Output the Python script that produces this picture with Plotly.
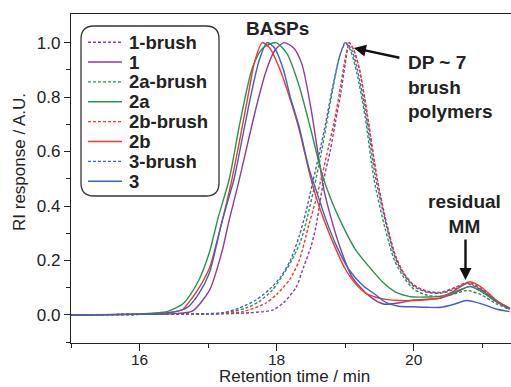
import plotly.graph_objects as go

# ---------------- data ----------------
names = ["1-brush", "1", "2a-brush", "2a", "2b-brush", "2b", "3-brush", "3"]
colors = ["#8E3C98", "#8E3C98", "#2B9150", "#2B9150", "#EC3A2E", "#EC3A2E", "#4163B5", "#4163B5"]
dashes = ["3px,2px", "solid", "3px,2px", "solid", "3px,2px", "solid", "3px,2px", "solid"]

x_1_brush = [15.0, 16.0, 17.0, 17.6, 17.94, 18.1, 18.28, 18.4, 18.5, 18.57, 18.69, 18.78, 18.86, 18.94, 19.0, 19.06,
             19.13, 19.21, 19.32, 19.46, 19.6, 19.73, 19.85, 20.0, 20.2, 20.4, 20.6, 20.8, 21.0, 21.2, 21.4]
y_1_brush = [0.0, 0.002, 0.003, 0.008, 0.018, 0.045, 0.10, 0.18, 0.25, 0.32, 0.50, 0.60, 0.71, 0.82, 0.92, 1.0,
             0.97, 0.90, 0.74, 0.51, 0.34, 0.22, 0.155, 0.11, 0.087, 0.083, 0.10, 0.118, 0.09, 0.052, 0.024]

x_1 = [15.0, 16.0, 16.5, 16.77, 17.02, 17.2, 17.31, 17.43, 17.55, 17.7, 17.84, 17.97, 18.11, 18.25, 18.37, 18.5,
       18.6, 18.69, 18.79, 18.91, 19.1, 19.35, 19.56, 19.8, 20.0, 20.2, 20.4, 20.6, 20.82, 21.0, 21.2, 21.4]
y_1 = [0.0, 0.002, 0.005, 0.014, 0.09, 0.23, 0.35, 0.47, 0.60, 0.76, 0.89, 0.97, 1.0, 0.98, 0.92, 0.76,
       0.60, 0.46, 0.36, 0.26, 0.14, 0.07, 0.04, 0.045, 0.055, 0.058, 0.062, 0.08, 0.105, 0.085, 0.05, 0.025]

x_2a_brush = [15.0, 16.0, 16.8, 17.2, 17.55, 17.75, 17.94, 18.1, 18.22, 18.35, 18.45, 18.55, 18.64, 18.72, 18.82, 18.92,
              19.0, 19.08, 19.17, 19.29, 19.42, 19.58, 19.72, 19.85, 20.0, 20.2, 20.4, 20.6, 20.78, 21.0, 21.2, 21.4]
y_2a_brush = [0.0, 0.002, 0.003, 0.006, 0.025, 0.05, 0.092, 0.15, 0.20, 0.27, 0.36, 0.47, 0.58, 0.69, 0.83, 0.95,
              1.0, 0.97, 0.89, 0.73, 0.50, 0.32, 0.20, 0.14, 0.095, 0.072, 0.068, 0.078, 0.09, 0.072, 0.042, 0.02]

x_2a = [15.0, 16.0, 16.4, 16.63, 16.73, 16.87, 17.02, 17.15, 17.31, 17.46, 17.65, 17.8, 17.99, 18.15, 18.33, 18.5,
        18.66, 18.8, 18.96, 19.15, 19.39, 19.55, 19.73, 19.9, 20.0, 20.2, 20.4, 20.6, 20.82, 21.0, 21.2, 21.4]
y_2a = [0.0, 0.004, 0.012, 0.04, 0.07, 0.13, 0.23, 0.36, 0.50, 0.70, 0.91, 0.98, 1.0, 0.96, 0.84, 0.68,
        0.52, 0.42, 0.33, 0.24, 0.165, 0.12, 0.085, 0.07, 0.066, 0.066, 0.069, 0.085, 0.104, 0.085, 0.05, 0.025]

x_2b_brush = [15.0, 16.0, 17.0, 17.5, 17.84, 18.0, 18.19, 18.33, 18.47, 18.57, 18.67, 18.76, 18.84, 18.92, 19.0, 19.06,
              19.13, 19.21, 19.32, 19.46, 19.6, 19.73, 19.85, 20.0, 20.2, 20.4, 20.6, 20.8, 21.0, 21.2, 21.4]
y_2b_brush = [0.0, 0.002, 0.004, 0.012, 0.043, 0.075, 0.13, 0.20, 0.33, 0.42, 0.52, 0.62, 0.71, 0.82, 0.94, 1.0,
              0.97, 0.90, 0.74, 0.51, 0.34, 0.22, 0.155, 0.11, 0.085, 0.082, 0.10, 0.12, 0.095, 0.055, 0.025]

x_2b = [15.0, 16.0, 16.4, 16.63, 16.73, 16.87, 17.02, 17.15, 17.25, 17.35, 17.46, 17.58, 17.68, 17.79, 17.9, 18.05,
        18.2, 18.33, 18.47, 18.58, 18.69, 18.85, 19.01, 19.15, 19.3, 19.45, 19.6, 19.8, 20.0, 20.2, 20.4, 20.6,
        20.82, 21.0, 21.2, 21.4]
y_2b = [0.0, 0.003, 0.008, 0.02, 0.05, 0.1, 0.172, 0.29, 0.39, 0.50, 0.64, 0.80, 0.93, 1.0, 0.98, 0.90,
        0.79, 0.68, 0.53, 0.43, 0.35, 0.25, 0.165, 0.115, 0.08, 0.065, 0.057, 0.053, 0.053, 0.056, 0.063, 0.09,
        0.122, 0.10, 0.055, 0.02]

x_3_brush = [15.0, 16.0, 16.8, 17.21, 17.45, 17.7, 17.9, 18.06, 18.2, 18.33, 18.43, 18.52, 18.62, 18.72, 18.82, 18.92,
             19.01, 19.1, 19.18, 19.3, 19.44, 19.6, 19.73, 19.85, 20.0, 20.2, 20.4, 20.6, 20.78, 21.0, 21.2, 21.4]
y_3_brush = [0.0, 0.002, 0.004, 0.008, 0.025, 0.055, 0.095, 0.14, 0.20, 0.29, 0.38, 0.48, 0.59, 0.71, 0.84, 0.95,
             1.0, 0.97, 0.90, 0.74, 0.51, 0.33, 0.21, 0.15, 0.105, 0.083, 0.08, 0.095, 0.115, 0.09, 0.05, 0.022]

x_3 = [15.0, 16.0, 16.4, 16.7, 16.87, 17.02, 17.19, 17.29, 17.38, 17.5, 17.62, 17.74, 17.86, 17.97, 18.1, 18.2,
       18.33, 18.47, 18.6, 18.72, 18.88, 19.06, 19.25, 19.44, 19.6, 19.78, 20.0, 20.2, 20.4, 20.6, 20.77, 21.0,
       21.2, 21.4]
y_3 = [0.0, 0.003, 0.006, 0.028, 0.08, 0.155, 0.33, 0.42, 0.50, 0.65, 0.80, 0.93, 1.0, 0.98, 0.90, 0.80,
       0.69, 0.54, 0.44, 0.35, 0.25, 0.165, 0.11, 0.075, 0.045, 0.032, 0.03, 0.028, 0.028, 0.04, 0.053, 0.04,
       0.022, 0.012]

xs = [x_1_brush, x_1, x_2a_brush, x_2a, x_2b_brush, x_2b, x_3_brush, x_3]
ys = [y_1_brush, y_1, y_2a_brush, y_2a, y_2b_brush, y_2b, y_3_brush, y_3]

x_major_ticks = [16, 18, 20]
x_minor_ticks = [15, 17, 19, 21]
y_major_ticks = [0.0, 0.2, 0.4, 0.6, 0.8, 1.0]
y_minor_ticks = [-0.1, 0.1, 0.3, 0.5, 0.7, 0.9]

x_title = "Retention time / min"
y_title = "RI response / A.U."

# ---------------- figure ----------------
W, H = 511, 387
ML, MR, MT, MB = 71, 0, 14, 44
PW, PH = W - ML - MR, H - MT - MB
FONT = "Liberation Sans, Arial, sans-serif"
INK = "#222222"


def px(xp):
    return (xp - ML) / PW


def py(yp):
    return (H - MB - yp) / PH


fig = go.Figure()
for n, c, d, x, y in zip(names, colors, dashes, xs, ys):
    fig.add_trace(go.Scatter(x=x, y=y, name=n, mode="lines",
                             line=dict(color=c, width=1.4, dash=d, shape="spline", smoothing=0.7),
                             showlegend=False))

shapes = []
annotations = []

# legend box with rounded corners
x0, x1, y0, y1 = px(81), px(219), py(196), py(26)
rx, ry = 13 / PW, 13 / PH
path = (f"M {x0+rx},{y1} L {x1-rx},{y1} Q {x1},{y1} {x1},{y1-ry} "
        f"L {x1},{y0+ry} Q {x1},{y0} {x1-rx},{y0} L {x0+rx},{y0} Q {x0},{y0} {x0},{y0+ry} "
        f"L {x0},{y1-ry} Q {x0},{y1} {x0+rx},{y1} Z")
shapes.append(dict(type="path", xref="paper", yref="paper", path=path,
                   line=dict(color="#333333", width=1.3), fillcolor="rgba(255,255,255,1)", layer="above"))

for i, (n, c, d) in enumerate(zip(names, colors, dashes)):
    yc = 42.2 + 19.86 * i
    shapes.append(dict(type="line", xref="paper", yref="paper", x0=px(88), x1=px(122), y0=py(yc), y1=py(yc),
                       line=dict(color=c, width=1.4, dash=d), layer="above"))
    annotations.append(dict(xref="paper", yref="paper", x=px(127), y=py(yc), xanchor="left", yanchor="middle",
                            text=f"<b>{n}</b>", showarrow=False, font=dict(family=FONT, size=18.5, color=INK)))

# axis titles (placed as in the reference)
annotations.append(dict(xref="paper", yref="paper", x=px(294), y=py(387), xanchor="center", yanchor="bottom",
                        text=x_title, showarrow=False, borderpad=0,
                        font=dict(family=FONT, size=17, color=INK)))
annotations.append(dict(xref="paper", yref="paper", x=px(20), y=py(162), xanchor="center", yanchor="middle",
                        text=y_title, textangle=-90, showarrow=False, font=dict(family=FONT, size=17, color=INK)))

# text labels
annotations.append(dict(xref="paper", yref="paper", x=px(277.5), y=py(28.5), xanchor="center", yanchor="middle",
                        text="<b>BASPs</b>", showarrow=False, font=dict(family=FONT, size=19, color=INK)))
annotations.append(dict(xref="paper", yref="paper", x=px(406), y=py(50), xanchor="left", yanchor="top",
                        align="left", text="<b>DP ~ 7<br>brush<br>polymers</b>", showarrow=False,
                        font=dict(family=FONT, size=19, color=INK)))
annotations.append(dict(xref="paper", yref="paper", x=px(464.5), y=py(189), xanchor="center", yanchor="top",
                        align="center", text="<b>residual<br>MM</b>", showarrow=False,
                        font=dict(family=FONT, size=19, color=INK)))
# arrows
annotations.append(dict(x=19.128, y=0.98, xref="x", yref="y", text="", showarrow=True, ax=47, ay=10,
                        arrowhead=2, arrowsize=1.0, arrowwidth=2.4, arrowcolor="#111111", standoff=0))
annotations.append(dict(x=20.756, y=0.128, xref="x", yref="y", text="", showarrow=True, ax=0, ay=-42,
                        arrowhead=2, arrowsize=1.0, arrowwidth=2.4, arrowcolor="#111111", standoff=0))

fig.update_layout(
    width=W, height=H,
    margin=dict(l=ML, r=MR, t=MT, b=MB, autoexpand=False),
    paper_bgcolor="white", plot_bgcolor="white",
    font=dict(family=FONT, color=INK),
    shapes=shapes, annotations=annotations,
    showlegend=False,
)
fig.update_xaxes(
    range=[15, 21.42], tickmode="array", tickvals=x_major_ticks, ticks="outside", ticklen=7, tickwidth=1.2,
    tickcolor=INK, showline=True, linecolor=INK, linewidth=1.3, mirror=True, showgrid=False, zeroline=False,
    tickfont=dict(size=15.5, family=FONT, color=INK), ticklabelstandoff=-5,
    minor=dict(tickmode="array", tickvals=x_minor_ticks, ticks="outside", ticklen=4, tickwidth=1.2, tickcolor=INK,
               showgrid=False),
)
fig.update_yaxes(
    range=[-0.103, 1.105], tickmode="array", tickvals=y_major_ticks, tickformat=".1f", ticks="outside",
    ticklen=6, tickwidth=1.2, tickcolor=INK, showline=True, linecolor=INK, linewidth=1.3, mirror=False,
    showgrid=False, zeroline=False, tickfont=dict(size=17, family=FONT, color=INK),
    minor=dict(tickmode="array", tickvals=y_minor_ticks, ticks="outside", ticklen=4, tickwidth=1.2, tickcolor=INK,
               showgrid=False),
)

fig.write_html("out.html")
